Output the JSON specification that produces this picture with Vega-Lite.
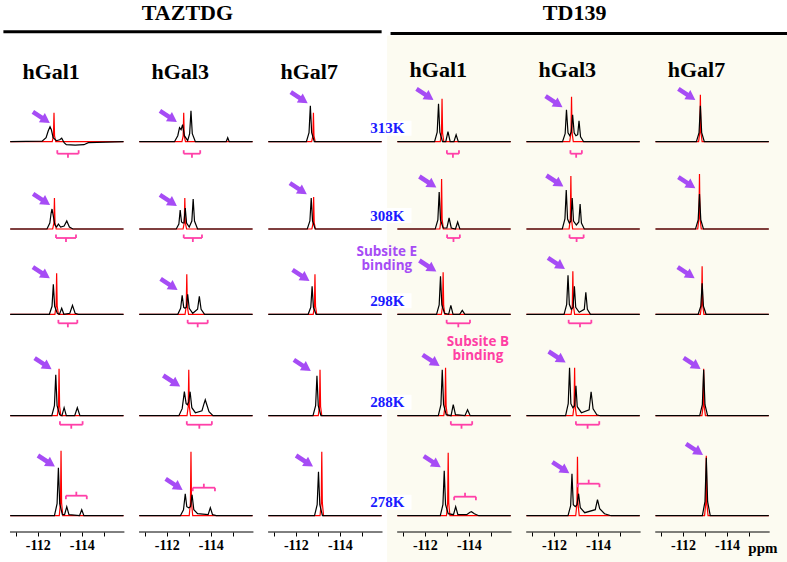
{
"$schema":"https://vega.github.io/schema/vega-lite/v6.json",
"width":787,"height":532,
"autosize":{"type":"none"},
"padding":{"left":0,"top":0,"right":0,"bottom":30},
"background":"#ffffff",
"config":{"view":{"stroke":null}},
"resolve":{"scale":{"color":"independent"}},
"datasets":{
"panels":[
{"lig":"TAZTDG","gal":"hGal1"},{"lig":"TAZTDG","gal":"hGal3"},{"lig":"TAZTDG","gal":"hGal7"},
{"lig":"TD139","gal":"hGal1"},{"lig":"TD139","gal":"hGal3"},{"lig":"TD139","gal":"hGal7"}],
"notes":[
{"lig":"TD139","gal":"hGal1","T":298,"ppm":-110.27,"i":62.6,"note":"Subsite E\nbinding","site":"E"},
{"lig":"TD139","gal":"hGal1","T":298,"ppm":-114.41,"i":-28,"note":"Subsite B\nbinding","site":"B"}],
"arrows":[
{"lig":"TAZTDG","gal":"hGal1","T":313,"ppm":-112.56,"i":18.7},{"lig":"TAZTDG","gal":"hGal3","T":313,"ppm":-112.47,"i":19.7},{"lig":"TAZTDG","gal":"hGal7","T":313,"ppm":-112.55,"i":38.4},
{"lig":"TD139","gal":"hGal1","T":313,"ppm":-112.4,"i":41.7},{"lig":"TD139","gal":"hGal3","T":313,"ppm":-112.4,"i":34.4},{"lig":"TD139","gal":"hGal7","T":313,"ppm":-112.57,"i":41.7},
{"lig":"TAZTDG","gal":"hGal1","T":308,"ppm":-112.57,"i":24},{"lig":"TAZTDG","gal":"hGal3","T":308,"ppm":-112.47,"i":23},{"lig":"TAZTDG","gal":"hGal7","T":308,"ppm":-112.51,"i":34.7},
{"lig":"TD139","gal":"hGal1","T":308,"ppm":-112.53,"i":41.3},{"lig":"TD139","gal":"hGal3","T":308,"ppm":-112.44,"i":42.3},{"lig":"TD139","gal":"hGal7","T":308,"ppm":-112.57,"i":40.7},
{"lig":"TAZTDG","gal":"hGal1","T":298,"ppm":-112.56,"i":36},{"lig":"TAZTDG","gal":"hGal3","T":298,"ppm":-112.5,"i":24.3},{"lig":"TAZTDG","gal":"hGal7","T":298,"ppm":-112.63,"i":33.3},
{"lig":"TD139","gal":"hGal1","T":298,"ppm":-112.53,"i":42.6},{"lig":"TD139","gal":"hGal3","T":298,"ppm":-112.51,"i":45.3},{"lig":"TD139","gal":"hGal7","T":298,"ppm":-112.54,"i":36},
{"lig":"TAZTDG","gal":"hGal1","T":288,"ppm":-112.64,"i":46.4},{"lig":"TAZTDG","gal":"hGal3","T":288,"ppm":-112.62,"i":29},{"lig":"TAZTDG","gal":"hGal7","T":288,"ppm":-112.69,"i":44.7},
{"lig":"TD139","gal":"hGal1","T":288,"ppm":-112.68,"i":49.7},{"lig":"TD139","gal":"hGal3","T":288,"ppm":-112.54,"i":53},{"lig":"TD139","gal":"hGal7","T":288,"ppm":-112.81,"i":46.7},
{"lig":"TAZTDG","gal":"hGal1","T":278,"ppm":-112.79,"i":49},{"lig":"TAZTDG","gal":"hGal3","T":278,"ppm":-112.73,"i":25.7},{"lig":"TAZTDG","gal":"hGal7","T":278,"ppm":-112.79,"i":49},
{"lig":"TD139","gal":"hGal1","T":278,"ppm":-112.73,"i":48.4},{"lig":"TD139","gal":"hGal3","T":278,"ppm":-112.71,"i":42.4},{"lig":"TD139","gal":"hGal7","T":278,"ppm":-112.92,"i":60.7}],
"brackets":[
{"lig":"TAZTDG","gal":"hGal1","T":313,"from":-112.89,"to":-113.86,"lvl":-12},{"lig":"TAZTDG","gal":"hGal3","T":313,"from":-112.77,"to":-113.52,"lvl":-12},
{"lig":"TD139","gal":"hGal1","T":313,"from":-113.0,"to":-113.55,"lvl":-12},{"lig":"TD139","gal":"hGal3","T":313,"from":-112.75,"to":-113.27,"lvl":-12},
{"lig":"TAZTDG","gal":"hGal1","T":308,"from":-112.83,"to":-113.74,"lvl":-9},{"lig":"TAZTDG","gal":"hGal3","T":308,"from":-112.77,"to":-113.6,"lvl":-9},
{"lig":"TD139","gal":"hGal1","T":308,"from":-113.01,"to":-113.59,"lvl":-9},{"lig":"TD139","gal":"hGal3","T":308,"from":-112.71,"to":-113.35,"lvl":-9},
{"lig":"TAZTDG","gal":"hGal1","T":298,"from":-112.94,"to":-113.8,"lvl":-9},{"lig":"TAZTDG","gal":"hGal3","T":298,"from":-112.95,"to":-113.86,"lvl":-9},
{"lig":"TD139","gal":"hGal1","T":298,"from":-112.99,"to":-114.05,"lvl":-9},{"lig":"TD139","gal":"hGal3","T":298,"from":-112.67,"to":-113.7,"lvl":-9},
{"lig":"TAZTDG","gal":"hGal1","T":288,"from":-113.01,"to":-114.04,"lvl":-9},{"lig":"TAZTDG","gal":"hGal3","T":288,"from":-112.91,"to":-114.05,"lvl":-9},
{"lig":"TD139","gal":"hGal1","T":288,"from":-113.18,"to":-114.15,"lvl":-9},{"lig":"TD139","gal":"hGal3","T":288,"from":-113.0,"to":-114.06,"lvl":-9},
{"lig":"TAZTDG","gal":"hGal1","T":278,"from":-113.28,"to":-114.23,"lvl":20},{"lig":"TAZTDG","gal":"hGal3","T":278,"from":-113.18,"to":-114.19,"lvl":28},
{"lig":"TD139","gal":"hGal1","T":278,"from":-113.33,"to":-114.32,"lvl":19},{"lig":"TD139","gal":"hGal3","T":278,"from":-113.09,"to":-114.07,"lvl":32}],
"spec":[
{"lig":"TAZTDG","gal":"hGal1","T":313,"s":"free","ppm":-110.75,"i":0},{"lig":"TAZTDG","gal":"hGal1","T":313,"s":"free","ppm":-112.66,"i":0},{"lig":"TAZTDG","gal":"hGal1","T":313,"s":"free","ppm":-112.715,"i":5.8},{"lig":"TAZTDG","gal":"hGal1","T":313,"s":"free","ppm":-112.74,"i":29},{"lig":"TAZTDG","gal":"hGal1","T":313,"s":"free","ppm":-112.765,"i":5.8},{"lig":"TAZTDG","gal":"hGal1","T":313,"s":"free","ppm":-112.82,"i":0},{"lig":"TAZTDG","gal":"hGal1","T":313,"s":"free","ppm":-115.9,"i":0},
{"lig":"TAZTDG","gal":"hGal3","T":313,"s":"free","ppm":-110.75,"i":0},{"lig":"TAZTDG","gal":"hGal3","T":313,"s":"free","ppm":-112.69,"i":0},{"lig":"TAZTDG","gal":"hGal3","T":313,"s":"free","ppm":-112.745,"i":5.8},{"lig":"TAZTDG","gal":"hGal3","T":313,"s":"free","ppm":-112.77,"i":29},{"lig":"TAZTDG","gal":"hGal3","T":313,"s":"free","ppm":-112.795,"i":5.8},{"lig":"TAZTDG","gal":"hGal3","T":313,"s":"free","ppm":-112.85,"i":0},{"lig":"TAZTDG","gal":"hGal3","T":313,"s":"free","ppm":-115.9,"i":0},
{"lig":"TAZTDG","gal":"hGal7","T":313,"s":"free","ppm":-110.75,"i":0},{"lig":"TAZTDG","gal":"hGal7","T":313,"s":"free","ppm":-112.72,"i":0},{"lig":"TAZTDG","gal":"hGal7","T":313,"s":"free","ppm":-112.775,"i":5.8},{"lig":"TAZTDG","gal":"hGal7","T":313,"s":"free","ppm":-112.8,"i":29},{"lig":"TAZTDG","gal":"hGal7","T":313,"s":"free","ppm":-112.825,"i":5.8},{"lig":"TAZTDG","gal":"hGal7","T":313,"s":"free","ppm":-112.88,"i":0},{"lig":"TAZTDG","gal":"hGal7","T":313,"s":"free","ppm":-115.9,"i":0},
{"lig":"TD139","gal":"hGal1","T":313,"s":"free","ppm":-110.75,"i":0},{"lig":"TD139","gal":"hGal1","T":313,"s":"free","ppm":-112.7,"i":0},{"lig":"TD139","gal":"hGal1","T":313,"s":"free","ppm":-112.755,"i":8.6},{"lig":"TD139","gal":"hGal1","T":313,"s":"free","ppm":-112.78,"i":43},{"lig":"TD139","gal":"hGal1","T":313,"s":"free","ppm":-112.805,"i":8.6},{"lig":"TD139","gal":"hGal1","T":313,"s":"free","ppm":-112.86,"i":0},{"lig":"TD139","gal":"hGal1","T":313,"s":"free","ppm":-115.9,"i":0},
{"lig":"TD139","gal":"hGal3","T":313,"s":"free","ppm":-110.75,"i":0},{"lig":"TD139","gal":"hGal3","T":313,"s":"free","ppm":-112.72,"i":0},{"lig":"TD139","gal":"hGal3","T":313,"s":"free","ppm":-112.775,"i":9},{"lig":"TD139","gal":"hGal3","T":313,"s":"free","ppm":-112.8,"i":45},{"lig":"TD139","gal":"hGal3","T":313,"s":"free","ppm":-112.825,"i":9},{"lig":"TD139","gal":"hGal3","T":313,"s":"free","ppm":-112.88,"i":0},{"lig":"TD139","gal":"hGal3","T":313,"s":"free","ppm":-115.9,"i":0},
{"lig":"TD139","gal":"hGal7","T":313,"s":"free","ppm":-110.75,"i":0},{"lig":"TD139","gal":"hGal7","T":313,"s":"free","ppm":-112.71,"i":0},{"lig":"TD139","gal":"hGal7","T":313,"s":"free","ppm":-112.765,"i":9.4},{"lig":"TD139","gal":"hGal7","T":313,"s":"free","ppm":-112.79,"i":47},{"lig":"TD139","gal":"hGal7","T":313,"s":"free","ppm":-112.815,"i":9.4},{"lig":"TD139","gal":"hGal7","T":313,"s":"free","ppm":-112.87,"i":0},{"lig":"TD139","gal":"hGal7","T":313,"s":"free","ppm":-115.9,"i":0},
{"lig":"TAZTDG","gal":"hGal1","T":308,"s":"free","ppm":-110.75,"i":0},{"lig":"TAZTDG","gal":"hGal1","T":308,"s":"free","ppm":-112.68,"i":0},{"lig":"TAZTDG","gal":"hGal1","T":308,"s":"free","ppm":-112.735,"i":6.2},{"lig":"TAZTDG","gal":"hGal1","T":308,"s":"free","ppm":-112.76,"i":31},{"lig":"TAZTDG","gal":"hGal1","T":308,"s":"free","ppm":-112.785,"i":6.2},{"lig":"TAZTDG","gal":"hGal1","T":308,"s":"free","ppm":-112.84,"i":0},{"lig":"TAZTDG","gal":"hGal1","T":308,"s":"free","ppm":-115.9,"i":0},
{"lig":"TAZTDG","gal":"hGal3","T":308,"s":"free","ppm":-110.75,"i":0},{"lig":"TAZTDG","gal":"hGal3","T":308,"s":"free","ppm":-112.74,"i":0},{"lig":"TAZTDG","gal":"hGal3","T":308,"s":"free","ppm":-112.795,"i":6.2},{"lig":"TAZTDG","gal":"hGal3","T":308,"s":"free","ppm":-112.82,"i":31},{"lig":"TAZTDG","gal":"hGal3","T":308,"s":"free","ppm":-112.845,"i":6.2},{"lig":"TAZTDG","gal":"hGal3","T":308,"s":"free","ppm":-112.9,"i":0},{"lig":"TAZTDG","gal":"hGal3","T":308,"s":"free","ppm":-115.9,"i":0},
{"lig":"TAZTDG","gal":"hGal7","T":308,"s":"free","ppm":-110.75,"i":0},{"lig":"TAZTDG","gal":"hGal7","T":308,"s":"free","ppm":-112.73,"i":0},{"lig":"TAZTDG","gal":"hGal7","T":308,"s":"free","ppm":-112.785,"i":6.4},{"lig":"TAZTDG","gal":"hGal7","T":308,"s":"free","ppm":-112.81,"i":32},{"lig":"TAZTDG","gal":"hGal7","T":308,"s":"free","ppm":-112.835,"i":6.4},{"lig":"TAZTDG","gal":"hGal7","T":308,"s":"free","ppm":-112.89,"i":0},{"lig":"TAZTDG","gal":"hGal7","T":308,"s":"free","ppm":-115.9,"i":0},
{"lig":"TD139","gal":"hGal1","T":308,"s":"free","ppm":-110.75,"i":0},{"lig":"TD139","gal":"hGal1","T":308,"s":"free","ppm":-112.68,"i":0},{"lig":"TD139","gal":"hGal1","T":308,"s":"free","ppm":-112.735,"i":10},{"lig":"TD139","gal":"hGal1","T":308,"s":"free","ppm":-112.76,"i":50},{"lig":"TD139","gal":"hGal1","T":308,"s":"free","ppm":-112.785,"i":10},{"lig":"TD139","gal":"hGal1","T":308,"s":"free","ppm":-112.84,"i":0},{"lig":"TD139","gal":"hGal1","T":308,"s":"free","ppm":-115.9,"i":0},
{"lig":"TD139","gal":"hGal3","T":308,"s":"free","ppm":-110.75,"i":0},{"lig":"TD139","gal":"hGal3","T":308,"s":"free","ppm":-112.69,"i":0},{"lig":"TD139","gal":"hGal3","T":308,"s":"free","ppm":-112.745,"i":10.6},{"lig":"TD139","gal":"hGal3","T":308,"s":"free","ppm":-112.77,"i":53},{"lig":"TD139","gal":"hGal3","T":308,"s":"free","ppm":-112.795,"i":10.6},{"lig":"TD139","gal":"hGal3","T":308,"s":"free","ppm":-112.85,"i":0},{"lig":"TD139","gal":"hGal3","T":308,"s":"free","ppm":-115.9,"i":0},
{"lig":"TD139","gal":"hGal7","T":308,"s":"free","ppm":-110.75,"i":0},{"lig":"TD139","gal":"hGal7","T":308,"s":"free","ppm":-112.67,"i":0},{"lig":"TD139","gal":"hGal7","T":308,"s":"free","ppm":-112.725,"i":11},{"lig":"TD139","gal":"hGal7","T":308,"s":"free","ppm":-112.75,"i":55},{"lig":"TD139","gal":"hGal7","T":308,"s":"free","ppm":-112.775,"i":11},{"lig":"TD139","gal":"hGal7","T":308,"s":"free","ppm":-112.83,"i":0},{"lig":"TD139","gal":"hGal7","T":308,"s":"free","ppm":-115.9,"i":0},
{"lig":"TAZTDG","gal":"hGal1","T":298,"s":"free","ppm":-110.75,"i":0},{"lig":"TAZTDG","gal":"hGal1","T":298,"s":"free","ppm":-112.78,"i":0},{"lig":"TAZTDG","gal":"hGal1","T":298,"s":"free","ppm":-112.835,"i":8.2},{"lig":"TAZTDG","gal":"hGal1","T":298,"s":"free","ppm":-112.86,"i":41},{"lig":"TAZTDG","gal":"hGal1","T":298,"s":"free","ppm":-112.885,"i":8.2},{"lig":"TAZTDG","gal":"hGal1","T":298,"s":"free","ppm":-112.94,"i":0},{"lig":"TAZTDG","gal":"hGal1","T":298,"s":"free","ppm":-115.9,"i":0},
{"lig":"TAZTDG","gal":"hGal3","T":298,"s":"free","ppm":-110.75,"i":0},{"lig":"TAZTDG","gal":"hGal3","T":298,"s":"free","ppm":-112.83,"i":0},{"lig":"TAZTDG","gal":"hGal3","T":298,"s":"free","ppm":-112.885,"i":8},{"lig":"TAZTDG","gal":"hGal3","T":298,"s":"free","ppm":-112.91,"i":40},{"lig":"TAZTDG","gal":"hGal3","T":298,"s":"free","ppm":-112.935,"i":8},{"lig":"TAZTDG","gal":"hGal3","T":298,"s":"free","ppm":-112.99,"i":0},{"lig":"TAZTDG","gal":"hGal3","T":298,"s":"free","ppm":-115.9,"i":0},
{"lig":"TAZTDG","gal":"hGal7","T":298,"s":"free","ppm":-110.75,"i":0},{"lig":"TAZTDG","gal":"hGal7","T":298,"s":"free","ppm":-112.79,"i":0},{"lig":"TAZTDG","gal":"hGal7","T":298,"s":"free","ppm":-112.845,"i":8},{"lig":"TAZTDG","gal":"hGal7","T":298,"s":"free","ppm":-112.87,"i":40},{"lig":"TAZTDG","gal":"hGal7","T":298,"s":"free","ppm":-112.895,"i":8},{"lig":"TAZTDG","gal":"hGal7","T":298,"s":"free","ppm":-112.95,"i":0},{"lig":"TAZTDG","gal":"hGal7","T":298,"s":"free","ppm":-115.9,"i":0},
{"lig":"TD139","gal":"hGal1","T":298,"s":"free","ppm":-110.75,"i":0},{"lig":"TD139","gal":"hGal1","T":298,"s":"free","ppm":-112.75,"i":0},{"lig":"TD139","gal":"hGal1","T":298,"s":"free","ppm":-112.805,"i":8.4},{"lig":"TD139","gal":"hGal1","T":298,"s":"free","ppm":-112.83,"i":42},{"lig":"TD139","gal":"hGal1","T":298,"s":"free","ppm":-112.855,"i":8.4},{"lig":"TD139","gal":"hGal1","T":298,"s":"free","ppm":-112.91,"i":0},{"lig":"TD139","gal":"hGal1","T":298,"s":"free","ppm":-115.9,"i":0},
{"lig":"TD139","gal":"hGal3","T":298,"s":"free","ppm":-110.75,"i":0},{"lig":"TD139","gal":"hGal3","T":298,"s":"free","ppm":-112.78,"i":0},{"lig":"TD139","gal":"hGal3","T":298,"s":"free","ppm":-112.835,"i":8.6},{"lig":"TD139","gal":"hGal3","T":298,"s":"free","ppm":-112.86,"i":43},{"lig":"TD139","gal":"hGal3","T":298,"s":"free","ppm":-112.885,"i":8.6},{"lig":"TD139","gal":"hGal3","T":298,"s":"free","ppm":-112.94,"i":0},{"lig":"TD139","gal":"hGal3","T":298,"s":"free","ppm":-115.9,"i":0},
{"lig":"TD139","gal":"hGal7","T":298,"s":"free","ppm":-110.75,"i":0},{"lig":"TD139","gal":"hGal7","T":298,"s":"free","ppm":-112.79,"i":0},{"lig":"TD139","gal":"hGal7","T":298,"s":"free","ppm":-112.845,"i":9.6},{"lig":"TD139","gal":"hGal7","T":298,"s":"free","ppm":-112.87,"i":48},{"lig":"TD139","gal":"hGal7","T":298,"s":"free","ppm":-112.895,"i":9.6},{"lig":"TD139","gal":"hGal7","T":298,"s":"free","ppm":-112.95,"i":0},{"lig":"TD139","gal":"hGal7","T":298,"s":"free","ppm":-115.9,"i":0},
{"lig":"TAZTDG","gal":"hGal1","T":288,"s":"free","ppm":-110.75,"i":0},{"lig":"TAZTDG","gal":"hGal1","T":288,"s":"free","ppm":-112.89,"i":0},{"lig":"TAZTDG","gal":"hGal1","T":288,"s":"free","ppm":-112.945,"i":9.4},{"lig":"TAZTDG","gal":"hGal1","T":288,"s":"free","ppm":-112.97,"i":47},{"lig":"TAZTDG","gal":"hGal1","T":288,"s":"free","ppm":-112.995,"i":9.4},{"lig":"TAZTDG","gal":"hGal1","T":288,"s":"free","ppm":-113.05,"i":0},{"lig":"TAZTDG","gal":"hGal1","T":288,"s":"free","ppm":-115.9,"i":0},
{"lig":"TAZTDG","gal":"hGal3","T":288,"s":"free","ppm":-110.75,"i":0},{"lig":"TAZTDG","gal":"hGal3","T":288,"s":"free","ppm":-112.92,"i":0},{"lig":"TAZTDG","gal":"hGal3","T":288,"s":"free","ppm":-112.975,"i":9.2},{"lig":"TAZTDG","gal":"hGal3","T":288,"s":"free","ppm":-113.0,"i":46},{"lig":"TAZTDG","gal":"hGal3","T":288,"s":"free","ppm":-113.025,"i":9.2},{"lig":"TAZTDG","gal":"hGal3","T":288,"s":"free","ppm":-113.08,"i":0},{"lig":"TAZTDG","gal":"hGal3","T":288,"s":"free","ppm":-115.9,"i":0},
{"lig":"TAZTDG","gal":"hGal7","T":288,"s":"free","ppm":-110.75,"i":0},{"lig":"TAZTDG","gal":"hGal7","T":288,"s":"free","ppm":-113.02,"i":0},{"lig":"TAZTDG","gal":"hGal7","T":288,"s":"free","ppm":-113.075,"i":9.2},{"lig":"TAZTDG","gal":"hGal7","T":288,"s":"free","ppm":-113.1,"i":46},{"lig":"TAZTDG","gal":"hGal7","T":288,"s":"free","ppm":-113.125,"i":9.2},{"lig":"TAZTDG","gal":"hGal7","T":288,"s":"free","ppm":-113.18,"i":0},{"lig":"TAZTDG","gal":"hGal7","T":288,"s":"free","ppm":-115.9,"i":0},
{"lig":"TD139","gal":"hGal1","T":288,"s":"free","ppm":-110.75,"i":0},{"lig":"TD139","gal":"hGal1","T":288,"s":"free","ppm":-112.86,"i":0},{"lig":"TD139","gal":"hGal1","T":288,"s":"free","ppm":-112.915,"i":9.6},{"lig":"TD139","gal":"hGal1","T":288,"s":"free","ppm":-112.94,"i":48},{"lig":"TD139","gal":"hGal1","T":288,"s":"free","ppm":-112.965,"i":9.6},{"lig":"TD139","gal":"hGal1","T":288,"s":"free","ppm":-113.02,"i":0},{"lig":"TD139","gal":"hGal1","T":288,"s":"free","ppm":-115.9,"i":0},
{"lig":"TD139","gal":"hGal3","T":288,"s":"free","ppm":-110.75,"i":0},{"lig":"TD139","gal":"hGal3","T":288,"s":"free","ppm":-112.86,"i":0},{"lig":"TD139","gal":"hGal3","T":288,"s":"free","ppm":-112.915,"i":9.6},{"lig":"TD139","gal":"hGal3","T":288,"s":"free","ppm":-112.94,"i":48},{"lig":"TD139","gal":"hGal3","T":288,"s":"free","ppm":-112.965,"i":9.6},{"lig":"TD139","gal":"hGal3","T":288,"s":"free","ppm":-113.02,"i":0},{"lig":"TD139","gal":"hGal3","T":288,"s":"free","ppm":-115.9,"i":0},
{"lig":"TD139","gal":"hGal7","T":288,"s":"free","ppm":-110.75,"i":0},{"lig":"TD139","gal":"hGal7","T":288,"s":"free","ppm":-112.86,"i":0},{"lig":"TD139","gal":"hGal7","T":288,"s":"free","ppm":-112.915,"i":9.4},{"lig":"TD139","gal":"hGal7","T":288,"s":"free","ppm":-112.94,"i":47},{"lig":"TD139","gal":"hGal7","T":288,"s":"free","ppm":-112.965,"i":9.4},{"lig":"TD139","gal":"hGal7","T":288,"s":"free","ppm":-113.02,"i":0},{"lig":"TD139","gal":"hGal7","T":288,"s":"free","ppm":-115.9,"i":0},
{"lig":"TAZTDG","gal":"hGal1","T":278,"s":"free","ppm":-110.75,"i":0},{"lig":"TAZTDG","gal":"hGal1","T":278,"s":"free","ppm":-112.98,"i":0},{"lig":"TAZTDG","gal":"hGal1","T":278,"s":"free","ppm":-113.035,"i":13},{"lig":"TAZTDG","gal":"hGal1","T":278,"s":"free","ppm":-113.06,"i":65},{"lig":"TAZTDG","gal":"hGal1","T":278,"s":"free","ppm":-113.085,"i":13},{"lig":"TAZTDG","gal":"hGal1","T":278,"s":"free","ppm":-113.14,"i":0},{"lig":"TAZTDG","gal":"hGal1","T":278,"s":"free","ppm":-115.9,"i":0},
{"lig":"TAZTDG","gal":"hGal3","T":278,"s":"free","ppm":-110.75,"i":0},{"lig":"TAZTDG","gal":"hGal3","T":278,"s":"free","ppm":-113.02,"i":0},{"lig":"TAZTDG","gal":"hGal3","T":278,"s":"free","ppm":-113.075,"i":12.8},{"lig":"TAZTDG","gal":"hGal3","T":278,"s":"free","ppm":-113.1,"i":64},{"lig":"TAZTDG","gal":"hGal3","T":278,"s":"free","ppm":-113.125,"i":12.8},{"lig":"TAZTDG","gal":"hGal3","T":278,"s":"free","ppm":-113.18,"i":0},{"lig":"TAZTDG","gal":"hGal3","T":278,"s":"free","ppm":-115.9,"i":0},
{"lig":"TAZTDG","gal":"hGal7","T":278,"s":"free","ppm":-110.75,"i":0},{"lig":"TAZTDG","gal":"hGal7","T":278,"s":"free","ppm":-113.1,"i":0},{"lig":"TAZTDG","gal":"hGal7","T":278,"s":"free","ppm":-113.155,"i":12.8},{"lig":"TAZTDG","gal":"hGal7","T":278,"s":"free","ppm":-113.18,"i":64},{"lig":"TAZTDG","gal":"hGal7","T":278,"s":"free","ppm":-113.205,"i":12.8},{"lig":"TAZTDG","gal":"hGal7","T":278,"s":"free","ppm":-113.26,"i":0},{"lig":"TAZTDG","gal":"hGal7","T":278,"s":"free","ppm":-115.9,"i":0},
{"lig":"TD139","gal":"hGal1","T":278,"s":"free","ppm":-110.75,"i":0},{"lig":"TD139","gal":"hGal1","T":278,"s":"free","ppm":-112.98,"i":0},{"lig":"TD139","gal":"hGal1","T":278,"s":"free","ppm":-113.035,"i":12.6},{"lig":"TD139","gal":"hGal1","T":278,"s":"free","ppm":-113.06,"i":63},{"lig":"TD139","gal":"hGal1","T":278,"s":"free","ppm":-113.085,"i":12.6},{"lig":"TD139","gal":"hGal1","T":278,"s":"free","ppm":-113.14,"i":0},{"lig":"TD139","gal":"hGal1","T":278,"s":"free","ppm":-115.9,"i":0},
{"lig":"TD139","gal":"hGal3","T":278,"s":"free","ppm":-110.75,"i":0},{"lig":"TD139","gal":"hGal3","T":278,"s":"free","ppm":-112.99,"i":0},{"lig":"TD139","gal":"hGal3","T":278,"s":"free","ppm":-113.045,"i":11.8},{"lig":"TD139","gal":"hGal3","T":278,"s":"free","ppm":-113.07,"i":59},{"lig":"TD139","gal":"hGal3","T":278,"s":"free","ppm":-113.095,"i":11.8},{"lig":"TD139","gal":"hGal3","T":278,"s":"free","ppm":-113.15,"i":0},{"lig":"TD139","gal":"hGal3","T":278,"s":"free","ppm":-115.9,"i":0},
{"lig":"TD139","gal":"hGal7","T":278,"s":"free","ppm":-110.75,"i":0},{"lig":"TD139","gal":"hGal7","T":278,"s":"free","ppm":-112.98,"i":0},{"lig":"TD139","gal":"hGal7","T":278,"s":"free","ppm":-113.035,"i":12},{"lig":"TD139","gal":"hGal7","T":278,"s":"free","ppm":-113.06,"i":60},{"lig":"TD139","gal":"hGal7","T":278,"s":"free","ppm":-113.085,"i":12},{"lig":"TD139","gal":"hGal7","T":278,"s":"free","ppm":-113.14,"i":0},{"lig":"TD139","gal":"hGal7","T":278,"s":"free","ppm":-115.9,"i":0},

{"lig":"TAZTDG","gal":"hGal1","T":313,"s":"bound","ppm":-110.75,"i":0},{"lig":"TAZTDG","gal":"hGal1","T":313,"s":"bound","ppm":-112.2,"i":0.5},{"lig":"TAZTDG","gal":"hGal1","T":313,"s":"bound","ppm":-112.38,"i":4},{"lig":"TAZTDG","gal":"hGal1","T":313,"s":"bound","ppm":-112.48,"i":11},{"lig":"TAZTDG","gal":"hGal1","T":313,"s":"bound","ppm":-112.56,"i":15},{"lig":"TAZTDG","gal":"hGal1","T":313,"s":"bound","ppm":-112.62,"i":12},{"lig":"TAZTDG","gal":"hGal1","T":313,"s":"bound","ppm":-112.7,"i":4},{"lig":"TAZTDG","gal":"hGal1","T":313,"s":"bound","ppm":-112.85,"i":1},{"lig":"TAZTDG","gal":"hGal1","T":313,"s":"bound","ppm":-113.0,"i":2},{"lig":"TAZTDG","gal":"hGal1","T":313,"s":"bound","ppm":-113.09,"i":3.5},{"lig":"TAZTDG","gal":"hGal1","T":313,"s":"bound","ppm":-113.2,"i":-1},{"lig":"TAZTDG","gal":"hGal1","T":313,"s":"bound","ppm":-113.3,"i":-3},{"lig":"TAZTDG","gal":"hGal1","T":313,"s":"bound","ppm":-113.7,"i":-3.5},{"lig":"TAZTDG","gal":"hGal1","T":313,"s":"bound","ppm":-114.1,"i":-3},{"lig":"TAZTDG","gal":"hGal1","T":313,"s":"bound","ppm":-114.3,"i":-1},{"lig":"TAZTDG","gal":"hGal1","T":313,"s":"bound","ppm":-115.9,"i":0},
{"lig":"TAZTDG","gal":"hGal3","T":313,"s":"bound","ppm":-110.75,"i":0},{"lig":"TAZTDG","gal":"hGal3","T":313,"s":"bound","ppm":-112.35,"i":0},{"lig":"TAZTDG","gal":"hGal3","T":313,"s":"bound","ppm":-112.5,"i":6},{"lig":"TAZTDG","gal":"hGal3","T":313,"s":"bound","ppm":-112.58,"i":14},{"lig":"TAZTDG","gal":"hGal3","T":313,"s":"bound","ppm":-112.65,"i":12},{"lig":"TAZTDG","gal":"hGal3","T":313,"s":"bound","ppm":-112.72,"i":17},{"lig":"TAZTDG","gal":"hGal3","T":313,"s":"bound","ppm":-112.8,"i":6},{"lig":"TAZTDG","gal":"hGal3","T":313,"s":"bound","ppm":-112.95,"i":1},{"lig":"TAZTDG","gal":"hGal3","T":313,"s":"bound","ppm":-113.04,"i":8},{"lig":"TAZTDG","gal":"hGal3","T":313,"s":"bound","ppm":-113.1,"i":31},{"lig":"TAZTDG","gal":"hGal3","T":313,"s":"bound","ppm":-113.16,"i":8},{"lig":"TAZTDG","gal":"hGal3","T":313,"s":"bound","ppm":-113.3,"i":0},{"lig":"TAZTDG","gal":"hGal3","T":313,"s":"bound","ppm":-114.7,"i":0},{"lig":"TAZTDG","gal":"hGal3","T":313,"s":"bound","ppm":-114.77,"i":4},{"lig":"TAZTDG","gal":"hGal3","T":313,"s":"bound","ppm":-114.84,"i":0},{"lig":"TAZTDG","gal":"hGal3","T":313,"s":"bound","ppm":-115.9,"i":0},
{"lig":"TAZTDG","gal":"hGal7","T":313,"s":"bound","ppm":-110.75,"i":0},{"lig":"TAZTDG","gal":"hGal7","T":313,"s":"bound","ppm":-112.48,"i":0},{"lig":"TAZTDG","gal":"hGal7","T":313,"s":"bound","ppm":-112.6,"i":9},{"lig":"TAZTDG","gal":"hGal7","T":313,"s":"bound","ppm":-112.66,"i":36},{"lig":"TAZTDG","gal":"hGal7","T":313,"s":"bound","ppm":-112.72,"i":9},{"lig":"TAZTDG","gal":"hGal7","T":313,"s":"bound","ppm":-112.84,"i":0},{"lig":"TAZTDG","gal":"hGal7","T":313,"s":"bound","ppm":-115.9,"i":0},
{"lig":"TD139","gal":"hGal1","T":313,"s":"bound","ppm":-110.75,"i":0},{"lig":"TD139","gal":"hGal1","T":313,"s":"bound","ppm":-112.44,"i":0},{"lig":"TD139","gal":"hGal1","T":313,"s":"bound","ppm":-112.56,"i":9.5},{"lig":"TD139","gal":"hGal1","T":313,"s":"bound","ppm":-112.62,"i":38},{"lig":"TD139","gal":"hGal1","T":313,"s":"bound","ppm":-112.68,"i":9.5},{"lig":"TD139","gal":"hGal1","T":313,"s":"bound","ppm":-112.8,"i":0},{"lig":"TD139","gal":"hGal1","T":313,"s":"bound","ppm":-112.95,"i":0},{"lig":"TD139","gal":"hGal1","T":313,"s":"bound","ppm":-113.05,"i":10},{"lig":"TD139","gal":"hGal1","T":313,"s":"bound","ppm":-113.15,"i":0},{"lig":"TD139","gal":"hGal1","T":313,"s":"bound","ppm":-113.32,"i":0},{"lig":"TD139","gal":"hGal1","T":313,"s":"bound","ppm":-113.42,"i":7},{"lig":"TD139","gal":"hGal1","T":313,"s":"bound","ppm":-113.52,"i":0},{"lig":"TD139","gal":"hGal1","T":313,"s":"bound","ppm":-115.9,"i":0},
{"lig":"TD139","gal":"hGal3","T":313,"s":"bound","ppm":-110.75,"i":0},{"lig":"TD139","gal":"hGal3","T":313,"s":"bound","ppm":-112.39,"i":0},{"lig":"TD139","gal":"hGal3","T":313,"s":"bound","ppm":-112.51,"i":8},{"lig":"TD139","gal":"hGal3","T":313,"s":"bound","ppm":-112.57,"i":32},{"lig":"TD139","gal":"hGal3","T":313,"s":"bound","ppm":-112.64,"i":9},{"lig":"TD139","gal":"hGal3","T":313,"s":"bound","ppm":-112.72,"i":6},{"lig":"TD139","gal":"hGal3","T":313,"s":"bound","ppm":-112.79,"i":10},{"lig":"TD139","gal":"hGal3","T":313,"s":"bound","ppm":-112.85,"i":27},{"lig":"TD139","gal":"hGal3","T":313,"s":"bound","ppm":-112.92,"i":9},{"lig":"TD139","gal":"hGal3","T":313,"s":"bound","ppm":-113.0,"i":6},{"lig":"TD139","gal":"hGal3","T":313,"s":"bound","ppm":-113.08,"i":7},{"lig":"TD139","gal":"hGal3","T":313,"s":"bound","ppm":-113.14,"i":21},{"lig":"TD139","gal":"hGal3","T":313,"s":"bound","ppm":-113.21,"i":5},{"lig":"TD139","gal":"hGal3","T":313,"s":"bound","ppm":-113.35,"i":0},{"lig":"TD139","gal":"hGal3","T":313,"s":"bound","ppm":-115.9,"i":0},
{"lig":"TD139","gal":"hGal7","T":313,"s":"bound","ppm":-110.75,"i":0},{"lig":"TD139","gal":"hGal7","T":313,"s":"bound","ppm":-112.61,"i":0},{"lig":"TD139","gal":"hGal7","T":313,"s":"bound","ppm":-112.73,"i":9},{"lig":"TD139","gal":"hGal7","T":313,"s":"bound","ppm":-112.79,"i":36},{"lig":"TD139","gal":"hGal7","T":313,"s":"bound","ppm":-112.85,"i":9},{"lig":"TD139","gal":"hGal7","T":313,"s":"bound","ppm":-112.97,"i":0},{"lig":"TD139","gal":"hGal7","T":313,"s":"bound","ppm":-115.9,"i":0},

{"lig":"TAZTDG","gal":"hGal1","T":308,"s":"bound","ppm":-110.75,"i":0},{"lig":"TAZTDG","gal":"hGal1","T":308,"s":"bound","ppm":-112.42,"i":0},{"lig":"TAZTDG","gal":"hGal1","T":308,"s":"bound","ppm":-112.55,"i":6},{"lig":"TAZTDG","gal":"hGal1","T":308,"s":"bound","ppm":-112.61,"i":16},{"lig":"TAZTDG","gal":"hGal1","T":308,"s":"bound","ppm":-112.65,"i":20},{"lig":"TAZTDG","gal":"hGal1","T":308,"s":"bound","ppm":-112.7,"i":14},{"lig":"TAZTDG","gal":"hGal1","T":308,"s":"bound","ppm":-112.78,"i":4},{"lig":"TAZTDG","gal":"hGal1","T":308,"s":"bound","ppm":-112.86,"i":2},{"lig":"TAZTDG","gal":"hGal1","T":308,"s":"bound","ppm":-112.94,"i":5},{"lig":"TAZTDG","gal":"hGal1","T":308,"s":"bound","ppm":-113.04,"i":2},{"lig":"TAZTDG","gal":"hGal1","T":308,"s":"bound","ppm":-113.2,"i":3},{"lig":"TAZTDG","gal":"hGal1","T":308,"s":"bound","ppm":-113.32,"i":8},{"lig":"TAZTDG","gal":"hGal1","T":308,"s":"bound","ppm":-113.44,"i":2},{"lig":"TAZTDG","gal":"hGal1","T":308,"s":"bound","ppm":-113.6,"i":0},{"lig":"TAZTDG","gal":"hGal1","T":308,"s":"bound","ppm":-115.9,"i":0},
{"lig":"TAZTDG","gal":"hGal3","T":308,"s":"bound","ppm":-110.75,"i":0},{"lig":"TAZTDG","gal":"hGal3","T":308,"s":"bound","ppm":-112.43,"i":0},{"lig":"TAZTDG","gal":"hGal3","T":308,"s":"bound","ppm":-112.55,"i":5},{"lig":"TAZTDG","gal":"hGal3","T":308,"s":"bound","ppm":-112.61,"i":19},{"lig":"TAZTDG","gal":"hGal3","T":308,"s":"bound","ppm":-112.67,"i":7},{"lig":"TAZTDG","gal":"hGal3","T":308,"s":"bound","ppm":-112.73,"i":6},{"lig":"TAZTDG","gal":"hGal3","T":308,"s":"bound","ppm":-112.78,"i":6},{"lig":"TAZTDG","gal":"hGal3","T":308,"s":"bound","ppm":-112.84,"i":21},{"lig":"TAZTDG","gal":"hGal3","T":308,"s":"bound","ppm":-112.9,"i":6},{"lig":"TAZTDG","gal":"hGal3","T":308,"s":"bound","ppm":-113.02,"i":2},{"lig":"TAZTDG","gal":"hGal3","T":308,"s":"bound","ppm":-113.14,"i":8},{"lig":"TAZTDG","gal":"hGal3","T":308,"s":"bound","ppm":-113.2,"i":30},{"lig":"TAZTDG","gal":"hGal3","T":308,"s":"bound","ppm":-113.26,"i":8},{"lig":"TAZTDG","gal":"hGal3","T":308,"s":"bound","ppm":-113.4,"i":0},{"lig":"TAZTDG","gal":"hGal3","T":308,"s":"bound","ppm":-115.9,"i":0},
{"lig":"TAZTDG","gal":"hGal7","T":308,"s":"bound","ppm":-110.75,"i":0},{"lig":"TAZTDG","gal":"hGal7","T":308,"s":"bound","ppm":-112.52,"i":0},{"lig":"TAZTDG","gal":"hGal7","T":308,"s":"bound","ppm":-112.64,"i":8},{"lig":"TAZTDG","gal":"hGal7","T":308,"s":"bound","ppm":-112.7,"i":31},{"lig":"TAZTDG","gal":"hGal7","T":308,"s":"bound","ppm":-112.76,"i":8},{"lig":"TAZTDG","gal":"hGal7","T":308,"s":"bound","ppm":-112.88,"i":0},{"lig":"TAZTDG","gal":"hGal7","T":308,"s":"bound","ppm":-115.9,"i":0},
{"lig":"TD139","gal":"hGal1","T":308,"s":"bound","ppm":-110.75,"i":0},{"lig":"TD139","gal":"hGal1","T":308,"s":"bound","ppm":-112.47,"i":0},{"lig":"TD139","gal":"hGal1","T":308,"s":"bound","ppm":-112.59,"i":9},{"lig":"TD139","gal":"hGal1","T":308,"s":"bound","ppm":-112.65,"i":37},{"lig":"TD139","gal":"hGal1","T":308,"s":"bound","ppm":-112.71,"i":9},{"lig":"TD139","gal":"hGal1","T":308,"s":"bound","ppm":-112.83,"i":1},{"lig":"TD139","gal":"hGal1","T":308,"s":"bound","ppm":-113.0,"i":1},{"lig":"TD139","gal":"hGal1","T":308,"s":"bound","ppm":-113.1,"i":11},{"lig":"TD139","gal":"hGal1","T":308,"s":"bound","ppm":-113.2,"i":1},{"lig":"TD139","gal":"hGal1","T":308,"s":"bound","ppm":-113.39,"i":0},{"lig":"TD139","gal":"hGal1","T":308,"s":"bound","ppm":-113.49,"i":7},{"lig":"TD139","gal":"hGal1","T":308,"s":"bound","ppm":-113.59,"i":0},{"lig":"TD139","gal":"hGal1","T":308,"s":"bound","ppm":-115.9,"i":0},
{"lig":"TD139","gal":"hGal3","T":308,"s":"bound","ppm":-110.75,"i":0},{"lig":"TD139","gal":"hGal3","T":308,"s":"bound","ppm":-112.38,"i":0},{"lig":"TD139","gal":"hGal3","T":308,"s":"bound","ppm":-112.5,"i":10},{"lig":"TD139","gal":"hGal3","T":308,"s":"bound","ppm":-112.56,"i":39},{"lig":"TD139","gal":"hGal3","T":308,"s":"bound","ppm":-112.62,"i":10},{"lig":"TD139","gal":"hGal3","T":308,"s":"bound","ppm":-112.7,"i":6},{"lig":"TD139","gal":"hGal3","T":308,"s":"bound","ppm":-112.77,"i":8},{"lig":"TD139","gal":"hGal3","T":308,"s":"bound","ppm":-112.83,"i":31},{"lig":"TD139","gal":"hGal3","T":308,"s":"bound","ppm":-112.89,"i":8},{"lig":"TD139","gal":"hGal3","T":308,"s":"bound","ppm":-113.02,"i":4},{"lig":"TD139","gal":"hGal3","T":308,"s":"bound","ppm":-113.13,"i":7},{"lig":"TD139","gal":"hGal3","T":308,"s":"bound","ppm":-113.19,"i":25},{"lig":"TD139","gal":"hGal3","T":308,"s":"bound","ppm":-113.25,"i":6},{"lig":"TD139","gal":"hGal3","T":308,"s":"bound","ppm":-113.38,"i":0},{"lig":"TD139","gal":"hGal3","T":308,"s":"bound","ppm":-115.9,"i":0},
{"lig":"TD139","gal":"hGal7","T":308,"s":"bound","ppm":-110.75,"i":0},{"lig":"TD139","gal":"hGal7","T":308,"s":"bound","ppm":-112.57,"i":0},{"lig":"TD139","gal":"hGal7","T":308,"s":"bound","ppm":-112.69,"i":9},{"lig":"TD139","gal":"hGal7","T":308,"s":"bound","ppm":-112.75,"i":35},{"lig":"TD139","gal":"hGal7","T":308,"s":"bound","ppm":-112.81,"i":9},{"lig":"TD139","gal":"hGal7","T":308,"s":"bound","ppm":-112.93,"i":0},{"lig":"TD139","gal":"hGal7","T":308,"s":"bound","ppm":-115.9,"i":0},

{"lig":"TAZTDG","gal":"hGal1","T":298,"s":"bound","ppm":-110.75,"i":0},{"lig":"TAZTDG","gal":"hGal1","T":298,"s":"bound","ppm":-112.53,"i":0},{"lig":"TAZTDG","gal":"hGal1","T":298,"s":"bound","ppm":-112.65,"i":8},{"lig":"TAZTDG","gal":"hGal1","T":298,"s":"bound","ppm":-112.71,"i":30},{"lig":"TAZTDG","gal":"hGal1","T":298,"s":"bound","ppm":-112.77,"i":8},{"lig":"TAZTDG","gal":"hGal1","T":298,"s":"bound","ppm":-112.89,"i":1},{"lig":"TAZTDG","gal":"hGal1","T":298,"s":"bound","ppm":-112.99,"i":0},{"lig":"TAZTDG","gal":"hGal1","T":298,"s":"bound","ppm":-113.09,"i":6},{"lig":"TAZTDG","gal":"hGal1","T":298,"s":"bound","ppm":-113.19,"i":0},{"lig":"TAZTDG","gal":"hGal1","T":298,"s":"bound","ppm":-113.46,"i":1},{"lig":"TAZTDG","gal":"hGal1","T":298,"s":"bound","ppm":-113.58,"i":9},{"lig":"TAZTDG","gal":"hGal1","T":298,"s":"bound","ppm":-113.7,"i":1},{"lig":"TAZTDG","gal":"hGal1","T":298,"s":"bound","ppm":-113.85,"i":0},{"lig":"TAZTDG","gal":"hGal1","T":298,"s":"bound","ppm":-115.9,"i":0},
{"lig":"TAZTDG","gal":"hGal3","T":298,"s":"bound","ppm":-110.75,"i":0},{"lig":"TAZTDG","gal":"hGal3","T":298,"s":"bound","ppm":-112.5,"i":0},{"lig":"TAZTDG","gal":"hGal3","T":298,"s":"bound","ppm":-112.63,"i":6},{"lig":"TAZTDG","gal":"hGal3","T":298,"s":"bound","ppm":-112.7,"i":19},{"lig":"TAZTDG","gal":"hGal3","T":298,"s":"bound","ppm":-112.77,"i":7},{"lig":"TAZTDG","gal":"hGal3","T":298,"s":"bound","ppm":-112.83,"i":6},{"lig":"TAZTDG","gal":"hGal3","T":298,"s":"bound","ppm":-112.89,"i":7},{"lig":"TAZTDG","gal":"hGal3","T":298,"s":"bound","ppm":-112.95,"i":20},{"lig":"TAZTDG","gal":"hGal3","T":298,"s":"bound","ppm":-113.02,"i":6},{"lig":"TAZTDG","gal":"hGal3","T":298,"s":"bound","ppm":-113.18,"i":1},{"lig":"TAZTDG","gal":"hGal3","T":298,"s":"bound","ppm":-113.4,"i":5},{"lig":"TAZTDG","gal":"hGal3","T":298,"s":"bound","ppm":-113.48,"i":18},{"lig":"TAZTDG","gal":"hGal3","T":298,"s":"bound","ppm":-113.56,"i":5},{"lig":"TAZTDG","gal":"hGal3","T":298,"s":"bound","ppm":-113.72,"i":0},{"lig":"TAZTDG","gal":"hGal3","T":298,"s":"bound","ppm":-115.9,"i":0},
{"lig":"TAZTDG","gal":"hGal7","T":298,"s":"bound","ppm":-110.75,"i":0},{"lig":"TAZTDG","gal":"hGal7","T":298,"s":"bound","ppm":-112.56,"i":0},{"lig":"TAZTDG","gal":"hGal7","T":298,"s":"bound","ppm":-112.68,"i":7},{"lig":"TAZTDG","gal":"hGal7","T":298,"s":"bound","ppm":-112.74,"i":28},{"lig":"TAZTDG","gal":"hGal7","T":298,"s":"bound","ppm":-112.8,"i":7},{"lig":"TAZTDG","gal":"hGal7","T":298,"s":"bound","ppm":-112.92,"i":0},{"lig":"TAZTDG","gal":"hGal7","T":298,"s":"bound","ppm":-115.9,"i":0},
{"lig":"TD139","gal":"hGal1","T":298,"s":"bound","ppm":-110.75,"i":0},{"lig":"TD139","gal":"hGal1","T":298,"s":"bound","ppm":-112.53,"i":0},{"lig":"TD139","gal":"hGal1","T":298,"s":"bound","ppm":-112.65,"i":9.5},{"lig":"TD139","gal":"hGal1","T":298,"s":"bound","ppm":-112.71,"i":38},{"lig":"TD139","gal":"hGal1","T":298,"s":"bound","ppm":-112.77,"i":9.5},{"lig":"TD139","gal":"hGal1","T":298,"s":"bound","ppm":-112.89,"i":1},{"lig":"TD139","gal":"hGal1","T":298,"s":"bound","ppm":-113.08,"i":0},{"lig":"TD139","gal":"hGal1","T":298,"s":"bound","ppm":-113.18,"i":9},{"lig":"TD139","gal":"hGal1","T":298,"s":"bound","ppm":-113.28,"i":0},{"lig":"TD139","gal":"hGal1","T":298,"s":"bound","ppm":-113.58,"i":0},{"lig":"TD139","gal":"hGal1","T":298,"s":"bound","ppm":-113.7,"i":4},{"lig":"TD139","gal":"hGal1","T":298,"s":"bound","ppm":-113.82,"i":0},{"lig":"TD139","gal":"hGal1","T":298,"s":"bound","ppm":-115.9,"i":0},
{"lig":"TD139","gal":"hGal3","T":298,"s":"bound","ppm":-110.75,"i":0},{"lig":"TD139","gal":"hGal3","T":298,"s":"bound","ppm":-112.46,"i":0},{"lig":"TD139","gal":"hGal3","T":298,"s":"bound","ppm":-112.58,"i":10},{"lig":"TD139","gal":"hGal3","T":298,"s":"bound","ppm":-112.64,"i":39},{"lig":"TD139","gal":"hGal3","T":298,"s":"bound","ppm":-112.7,"i":10},{"lig":"TD139","gal":"hGal3","T":298,"s":"bound","ppm":-112.79,"i":5},{"lig":"TD139","gal":"hGal3","T":298,"s":"bound","ppm":-112.87,"i":7},{"lig":"TD139","gal":"hGal3","T":298,"s":"bound","ppm":-112.93,"i":28},{"lig":"TD139","gal":"hGal3","T":298,"s":"bound","ppm":-112.99,"i":7},{"lig":"TD139","gal":"hGal3","T":298,"s":"bound","ppm":-113.15,"i":2},{"lig":"TD139","gal":"hGal3","T":298,"s":"bound","ppm":-113.38,"i":5},{"lig":"TD139","gal":"hGal3","T":298,"s":"bound","ppm":-113.45,"i":22},{"lig":"TD139","gal":"hGal3","T":298,"s":"bound","ppm":-113.52,"i":5},{"lig":"TD139","gal":"hGal3","T":298,"s":"bound","ppm":-113.66,"i":0},{"lig":"TD139","gal":"hGal3","T":298,"s":"bound","ppm":-115.9,"i":0},
{"lig":"TD139","gal":"hGal7","T":298,"s":"bound","ppm":-110.75,"i":0},{"lig":"TD139","gal":"hGal7","T":298,"s":"bound","ppm":-112.69,"i":0},{"lig":"TD139","gal":"hGal7","T":298,"s":"bound","ppm":-112.81,"i":8},{"lig":"TD139","gal":"hGal7","T":298,"s":"bound","ppm":-112.87,"i":31},{"lig":"TD139","gal":"hGal7","T":298,"s":"bound","ppm":-112.93,"i":8},{"lig":"TD139","gal":"hGal7","T":298,"s":"bound","ppm":-113.05,"i":0},{"lig":"TD139","gal":"hGal7","T":298,"s":"bound","ppm":-115.9,"i":0},

{"lig":"TAZTDG","gal":"hGal1","T":288,"s":"bound","ppm":-110.75,"i":0},{"lig":"TAZTDG","gal":"hGal1","T":288,"s":"bound","ppm":-112.64,"i":0},{"lig":"TAZTDG","gal":"hGal1","T":288,"s":"bound","ppm":-112.76,"i":10},{"lig":"TAZTDG","gal":"hGal1","T":288,"s":"bound","ppm":-112.82,"i":41},{"lig":"TAZTDG","gal":"hGal1","T":288,"s":"bound","ppm":-112.88,"i":10},{"lig":"TAZTDG","gal":"hGal1","T":288,"s":"bound","ppm":-113.0,"i":1},{"lig":"TAZTDG","gal":"hGal1","T":288,"s":"bound","ppm":-113.1,"i":0},{"lig":"TAZTDG","gal":"hGal1","T":288,"s":"bound","ppm":-113.2,"i":8},{"lig":"TAZTDG","gal":"hGal1","T":288,"s":"bound","ppm":-113.3,"i":0},{"lig":"TAZTDG","gal":"hGal1","T":288,"s":"bound","ppm":-113.68,"i":0},{"lig":"TAZTDG","gal":"hGal1","T":288,"s":"bound","ppm":-113.8,"i":8},{"lig":"TAZTDG","gal":"hGal1","T":288,"s":"bound","ppm":-113.92,"i":0},{"lig":"TAZTDG","gal":"hGal1","T":288,"s":"bound","ppm":-115.9,"i":0},
{"lig":"TAZTDG","gal":"hGal3","T":288,"s":"bound","ppm":-110.75,"i":0},{"lig":"TAZTDG","gal":"hGal3","T":288,"s":"bound","ppm":-112.55,"i":0},{"lig":"TAZTDG","gal":"hGal3","T":288,"s":"bound","ppm":-112.7,"i":7},{"lig":"TAZTDG","gal":"hGal3","T":288,"s":"bound","ppm":-112.8,"i":24},{"lig":"TAZTDG","gal":"hGal3","T":288,"s":"bound","ppm":-112.88,"i":12},{"lig":"TAZTDG","gal":"hGal3","T":288,"s":"bound","ppm":-112.94,"i":11},{"lig":"TAZTDG","gal":"hGal3","T":288,"s":"bound","ppm":-113.0,"i":14},{"lig":"TAZTDG","gal":"hGal3","T":288,"s":"bound","ppm":-113.06,"i":24},{"lig":"TAZTDG","gal":"hGal3","T":288,"s":"bound","ppm":-113.14,"i":8},{"lig":"TAZTDG","gal":"hGal3","T":288,"s":"bound","ppm":-113.3,"i":3},{"lig":"TAZTDG","gal":"hGal3","T":288,"s":"bound","ppm":-113.6,"i":5},{"lig":"TAZTDG","gal":"hGal3","T":288,"s":"bound","ppm":-113.68,"i":11},{"lig":"TAZTDG","gal":"hGal3","T":288,"s":"bound","ppm":-113.75,"i":16},{"lig":"TAZTDG","gal":"hGal3","T":288,"s":"bound","ppm":-113.82,"i":11},{"lig":"TAZTDG","gal":"hGal3","T":288,"s":"bound","ppm":-113.92,"i":4},{"lig":"TAZTDG","gal":"hGal3","T":288,"s":"bound","ppm":-114.1,"i":0},{"lig":"TAZTDG","gal":"hGal3","T":288,"s":"bound","ppm":-115.9,"i":0},
{"lig":"TAZTDG","gal":"hGal7","T":288,"s":"bound","ppm":-110.75,"i":0},{"lig":"TAZTDG","gal":"hGal7","T":288,"s":"bound","ppm":-112.78,"i":0},{"lig":"TAZTDG","gal":"hGal7","T":288,"s":"bound","ppm":-112.9,"i":10},{"lig":"TAZTDG","gal":"hGal7","T":288,"s":"bound","ppm":-112.96,"i":40},{"lig":"TAZTDG","gal":"hGal7","T":288,"s":"bound","ppm":-113.02,"i":10},{"lig":"TAZTDG","gal":"hGal7","T":288,"s":"bound","ppm":-113.14,"i":0},{"lig":"TAZTDG","gal":"hGal7","T":288,"s":"bound","ppm":-115.9,"i":0},
{"lig":"TD139","gal":"hGal1","T":288,"s":"bound","ppm":-110.75,"i":0},{"lig":"TD139","gal":"hGal1","T":288,"s":"bound","ppm":-112.61,"i":0},{"lig":"TD139","gal":"hGal1","T":288,"s":"bound","ppm":-112.73,"i":11},{"lig":"TD139","gal":"hGal1","T":288,"s":"bound","ppm":-112.79,"i":46},{"lig":"TD139","gal":"hGal1","T":288,"s":"bound","ppm":-112.85,"i":11},{"lig":"TD139","gal":"hGal1","T":288,"s":"bound","ppm":-112.97,"i":1},{"lig":"TD139","gal":"hGal1","T":288,"s":"bound","ppm":-113.19,"i":0},{"lig":"TD139","gal":"hGal1","T":288,"s":"bound","ppm":-113.29,"i":11},{"lig":"TD139","gal":"hGal1","T":288,"s":"bound","ppm":-113.39,"i":1},{"lig":"TD139","gal":"hGal1","T":288,"s":"bound","ppm":-113.82,"i":0},{"lig":"TD139","gal":"hGal1","T":288,"s":"bound","ppm":-113.94,"i":6},{"lig":"TD139","gal":"hGal1","T":288,"s":"bound","ppm":-114.06,"i":0},{"lig":"TD139","gal":"hGal1","T":288,"s":"bound","ppm":-115.9,"i":0},
{"lig":"TD139","gal":"hGal3","T":288,"s":"bound","ppm":-110.75,"i":0},{"lig":"TD139","gal":"hGal3","T":288,"s":"bound","ppm":-112.53,"i":0},{"lig":"TD139","gal":"hGal3","T":288,"s":"bound","ppm":-112.65,"i":12},{"lig":"TD139","gal":"hGal3","T":288,"s":"bound","ppm":-112.71,"i":48},{"lig":"TD139","gal":"hGal3","T":288,"s":"bound","ppm":-112.77,"i":12},{"lig":"TD139","gal":"hGal3","T":288,"s":"bound","ppm":-112.86,"i":8},{"lig":"TD139","gal":"hGal3","T":288,"s":"bound","ppm":-112.94,"i":10},{"lig":"TD139","gal":"hGal3","T":288,"s":"bound","ppm":-113.0,"i":30},{"lig":"TD139","gal":"hGal3","T":288,"s":"bound","ppm":-113.06,"i":9},{"lig":"TD139","gal":"hGal3","T":288,"s":"bound","ppm":-113.25,"i":3},{"lig":"TD139","gal":"hGal3","T":288,"s":"bound","ppm":-113.6,"i":6},{"lig":"TD139","gal":"hGal3","T":288,"s":"bound","ppm":-113.69,"i":24},{"lig":"TD139","gal":"hGal3","T":288,"s":"bound","ppm":-113.78,"i":7},{"lig":"TD139","gal":"hGal3","T":288,"s":"bound","ppm":-113.95,"i":1},{"lig":"TD139","gal":"hGal3","T":288,"s":"bound","ppm":-114.1,"i":0},{"lig":"TD139","gal":"hGal3","T":288,"s":"bound","ppm":-115.9,"i":0},
{"lig":"TD139","gal":"hGal7","T":288,"s":"bound","ppm":-110.75,"i":0},{"lig":"TD139","gal":"hGal7","T":288,"s":"bound","ppm":-112.76,"i":0},{"lig":"TD139","gal":"hGal7","T":288,"s":"bound","ppm":-112.88,"i":11},{"lig":"TD139","gal":"hGal7","T":288,"s":"bound","ppm":-112.94,"i":46},{"lig":"TD139","gal":"hGal7","T":288,"s":"bound","ppm":-113.0,"i":11},{"lig":"TD139","gal":"hGal7","T":288,"s":"bound","ppm":-113.12,"i":0},{"lig":"TD139","gal":"hGal7","T":288,"s":"bound","ppm":-115.9,"i":0},

{"lig":"TAZTDG","gal":"hGal1","T":278,"s":"bound","ppm":-110.75,"i":0},{"lig":"TAZTDG","gal":"hGal1","T":278,"s":"bound","ppm":-112.76,"i":0},{"lig":"TAZTDG","gal":"hGal1","T":278,"s":"bound","ppm":-112.88,"i":12},{"lig":"TAZTDG","gal":"hGal1","T":278,"s":"bound","ppm":-112.94,"i":48},{"lig":"TAZTDG","gal":"hGal1","T":278,"s":"bound","ppm":-113.0,"i":12},{"lig":"TAZTDG","gal":"hGal1","T":278,"s":"bound","ppm":-113.12,"i":1},{"lig":"TAZTDG","gal":"hGal1","T":278,"s":"bound","ppm":-113.22,"i":1},{"lig":"TAZTDG","gal":"hGal1","T":278,"s":"bound","ppm":-113.32,"i":9},{"lig":"TAZTDG","gal":"hGal1","T":278,"s":"bound","ppm":-113.42,"i":1},{"lig":"TAZTDG","gal":"hGal1","T":278,"s":"bound","ppm":-113.9,"i":0},{"lig":"TAZTDG","gal":"hGal1","T":278,"s":"bound","ppm":-114.0,"i":6},{"lig":"TAZTDG","gal":"hGal1","T":278,"s":"bound","ppm":-114.1,"i":0},{"lig":"TAZTDG","gal":"hGal1","T":278,"s":"bound","ppm":-115.9,"i":0},
{"lig":"TAZTDG","gal":"hGal3","T":278,"s":"bound","ppm":-110.75,"i":0},{"lig":"TAZTDG","gal":"hGal3","T":278,"s":"bound","ppm":-112.62,"i":0},{"lig":"TAZTDG","gal":"hGal3","T":278,"s":"bound","ppm":-112.76,"i":6},{"lig":"TAZTDG","gal":"hGal3","T":278,"s":"bound","ppm":-112.84,"i":22},{"lig":"TAZTDG","gal":"hGal3","T":278,"s":"bound","ppm":-112.91,"i":9},{"lig":"TAZTDG","gal":"hGal3","T":278,"s":"bound","ppm":-113.0,"i":8},{"lig":"TAZTDG","gal":"hGal3","T":278,"s":"bound","ppm":-113.08,"i":9},{"lig":"TAZTDG","gal":"hGal3","T":278,"s":"bound","ppm":-113.15,"i":21},{"lig":"TAZTDG","gal":"hGal3","T":278,"s":"bound","ppm":-113.23,"i":6},{"lig":"TAZTDG","gal":"hGal3","T":278,"s":"bound","ppm":-113.4,"i":2},{"lig":"TAZTDG","gal":"hGal3","T":278,"s":"bound","ppm":-113.88,"i":1},{"lig":"TAZTDG","gal":"hGal3","T":278,"s":"bound","ppm":-113.98,"i":8},{"lig":"TAZTDG","gal":"hGal3","T":278,"s":"bound","ppm":-114.08,"i":1},{"lig":"TAZTDG","gal":"hGal3","T":278,"s":"bound","ppm":-114.25,"i":0},{"lig":"TAZTDG","gal":"hGal3","T":278,"s":"bound","ppm":-115.9,"i":0},
{"lig":"TAZTDG","gal":"hGal7","T":278,"s":"bound","ppm":-110.75,"i":0},{"lig":"TAZTDG","gal":"hGal7","T":278,"s":"bound","ppm":-112.85,"i":0},{"lig":"TAZTDG","gal":"hGal7","T":278,"s":"bound","ppm":-112.97,"i":11},{"lig":"TAZTDG","gal":"hGal7","T":278,"s":"bound","ppm":-113.03,"i":44},{"lig":"TAZTDG","gal":"hGal7","T":278,"s":"bound","ppm":-113.09,"i":11},{"lig":"TAZTDG","gal":"hGal7","T":278,"s":"bound","ppm":-113.21,"i":0},{"lig":"TAZTDG","gal":"hGal7","T":278,"s":"bound","ppm":-115.9,"i":0},
{"lig":"TD139","gal":"hGal1","T":278,"s":"bound","ppm":-110.75,"i":0},{"lig":"TD139","gal":"hGal1","T":278,"s":"bound","ppm":-112.7,"i":0},{"lig":"TD139","gal":"hGal1","T":278,"s":"bound","ppm":-112.82,"i":11},{"lig":"TD139","gal":"hGal1","T":278,"s":"bound","ppm":-112.88,"i":45},{"lig":"TD139","gal":"hGal1","T":278,"s":"bound","ppm":-112.94,"i":11},{"lig":"TD139","gal":"hGal1","T":278,"s":"bound","ppm":-113.06,"i":2},{"lig":"TD139","gal":"hGal1","T":278,"s":"bound","ppm":-113.3,"i":1},{"lig":"TD139","gal":"hGal1","T":278,"s":"bound","ppm":-113.4,"i":9},{"lig":"TD139","gal":"hGal1","T":278,"s":"bound","ppm":-113.5,"i":1},{"lig":"TD139","gal":"hGal1","T":278,"s":"bound","ppm":-113.9,"i":1},{"lig":"TD139","gal":"hGal1","T":278,"s":"bound","ppm":-114.05,"i":3.5},{"lig":"TD139","gal":"hGal1","T":278,"s":"bound","ppm":-114.12,"i":4},{"lig":"TD139","gal":"hGal1","T":278,"s":"bound","ppm":-114.25,"i":2},{"lig":"TD139","gal":"hGal1","T":278,"s":"bound","ppm":-114.45,"i":0},{"lig":"TD139","gal":"hGal1","T":278,"s":"bound","ppm":-115.9,"i":0},
{"lig":"TD139","gal":"hGal3","T":278,"s":"bound","ppm":-110.75,"i":0},{"lig":"TD139","gal":"hGal3","T":278,"s":"bound","ppm":-112.64,"i":0},{"lig":"TD139","gal":"hGal3","T":278,"s":"bound","ppm":-112.76,"i":10},{"lig":"TD139","gal":"hGal3","T":278,"s":"bound","ppm":-112.82,"i":42},{"lig":"TD139","gal":"hGal3","T":278,"s":"bound","ppm":-112.88,"i":11},{"lig":"TD139","gal":"hGal3","T":278,"s":"bound","ppm":-112.97,"i":9},{"lig":"TD139","gal":"hGal3","T":278,"s":"bound","ppm":-113.05,"i":11},{"lig":"TD139","gal":"hGal3","T":278,"s":"bound","ppm":-113.12,"i":22},{"lig":"TD139","gal":"hGal3","T":278,"s":"bound","ppm":-113.2,"i":8},{"lig":"TD139","gal":"hGal3","T":278,"s":"bound","ppm":-113.4,"i":3},{"lig":"TD139","gal":"hGal3","T":278,"s":"bound","ppm":-113.88,"i":6},{"lig":"TD139","gal":"hGal3","T":278,"s":"bound","ppm":-113.98,"i":16},{"lig":"TD139","gal":"hGal3","T":278,"s":"bound","ppm":-114.08,"i":7},{"lig":"TD139","gal":"hGal3","T":278,"s":"bound","ppm":-114.3,"i":2},{"lig":"TD139","gal":"hGal3","T":278,"s":"bound","ppm":-114.6,"i":0},{"lig":"TD139","gal":"hGal3","T":278,"s":"bound","ppm":-115.9,"i":0},
{"lig":"TD139","gal":"hGal7","T":278,"s":"bound","ppm":-110.75,"i":0},{"lig":"TD139","gal":"hGal7","T":278,"s":"bound","ppm":-112.88,"i":0},{"lig":"TD139","gal":"hGal7","T":278,"s":"bound","ppm":-113.0,"i":14},{"lig":"TD139","gal":"hGal7","T":278,"s":"bound","ppm":-113.06,"i":58},{"lig":"TD139","gal":"hGal7","T":278,"s":"bound","ppm":-113.12,"i":14},{"lig":"TD139","gal":"hGal7","T":278,"s":"bound","ppm":-113.24,"i":0},{"lig":"TD139","gal":"hGal7","T":278,"s":"bound","ppm":-115.9,"i":0}
]
},
"encoding":{
"x":{"field":"X","type":"quantitative","scale":{"domain":[-0.4545,35.318],"nice":false,"zero":false},
 "axis":{"title":"ppm","values":[0.26,1.26,2.26,3.26,4.26,6.126,7.126,8.126,9.126,10.126,11.992,12.992,13.992,14.992,15.992,17.858,18.858,19.858,20.858,21.858,23.724,24.724,25.724,26.724,27.724,29.59,30.59,31.59,32.59,33.59],
 "labelExpr":"round(datum.value-floor(datum.value/5.866)*5.866-0.26)==1?'-112':round(datum.value-floor(datum.value/5.866)*5.866-0.26)==3?'-114':''",
 "domain":false,"grid":false,"ticks":true,"tickSize":4,"tickColor":"#000000","tickWidth":1,
 "labelFont":"Liberation Serif","labelFontSize":14,"labelFontWeight":"bold","labelColor":"#000000","labelPadding":2,"labelOverlap":false,"labelFlush":false,
 "titleFont":"Liberation Serif","titleFontSize":15,"titleFontWeight":"bold","titleColor":"#000000","titleX":777,"titleY":15,"titleAlign":"right","titleBaseline":"middle","titleAngle":0,"zindex":1}},
"y":{"field":"Y","type":"quantitative","scale":{"domain":[0,532],"nice":false,"zero":false},"axis":null}
},
"layer":[
{"data":{"values":[{"lig":"TD139"}]},
 "transform":[{"calculate":"17.14","as":"X"},{"calculate":"35.4","as":"X2"},{"calculate":"496.5","as":"Y"},{"calculate":"-31","as":"Y2"}],
 "mark":{"type":"rect","color":"#fcfbf1"},
 "encoding":{"x2":{"field":"X2"},"y2":{"field":"Y2"}}},
{"data":{"name":"spec"},
 "transform":[{"aggregate":[{"op":"count","as":"n"}],"groupby":["T"]},
  {"calculate":"datum.T==313?390.3:datum.T==308?303:datum.T==298?217.7:datum.T==288?116.3:16.3","as":"B"},
  {"calculate":"16.05","as":"X"},{"calculate":"18.25","as":"X2"},{"calculate":"datum.B+6","as":"Y"},{"calculate":"datum.B+21","as":"Y2"}],
 "mark":{"type":"rect","color":"#ffffff"},
 "encoding":{"x2":{"field":"X2"},"y2":{"field":"Y2"}}},
{"data":{"name":"panels"},
 "transform":[{"filter":"datum.gal=='hGal3'"},
  {"calculate":"(datum.lig=='TD139'?3:0)+indexof(['hGal1','hGal3','hGal7'],datum.gal)","as":"col"},
  {"calculate":"datum.col*5.866-6.166","as":"X"},{"calculate":"datum.col*5.866+11.026+(datum.col>2?0.9:0)","as":"X2"},
  {"calculate":"datum.col>2?498.5:500.3","as":"Y"}],
 "mark":{"type":"rule","color":"#000000","strokeWidth":3},
 "encoding":{"x2":{"field":"X2"}}},
{"data":{"name":"panels"},
 "transform":[{"filter":"datum.gal=='hGal3'"},
  {"calculate":"(datum.lig=='TD139'?3:0)+indexof(['hGal1','hGal3','hGal7'],datum.gal)","as":"col"},
  {"calculate":"datum.col*5.866+2.2","as":"X"},{"calculate":"512.3","as":"Y"}],
 "mark":{"type":"text","font":"Liberation Serif","fontSize":22,"fontWeight":"bold","color":"#000000","align":"center","baseline":"alphabetic"},
 "encoding":{"text":{"field":"lig"}}},
{"data":{"name":"panels"},
 "transform":[{"calculate":"(datum.lig=='TD139'?3:0)+indexof(['hGal1','hGal3','hGal7'],datum.gal)","as":"col"},
  {"calculate":"datum.col*5.866+1.87","as":"X"},{"calculate":"datum.col>2?455:452.7","as":"Y"}],
 "mark":{"type":"text","font":"Liberation Serif","fontSize":22,"fontWeight":"bold","color":"#000000","align":"center","baseline":"alphabetic"},
 "encoding":{"text":{"field":"gal"}}},
{"data":{"name":"spec"},
 "transform":[{"aggregate":[{"op":"count","as":"n"}],"groupby":["T"]},
  {"calculate":"datum.T==313?390.3:datum.T==308?303:datum.T==298?217.7:datum.T==288?116.3:16.3","as":"B"},
  {"calculate":"17.15","as":"X"},{"calculate":"datum.B+13.5","as":"Y"},{"calculate":"datum.T+'K'","as":"label"}],
 "mark":{"type":"text","font":"Liberation Serif","fontSize":15,"fontWeight":"bold","color":"#1a1aff","align":"center","baseline":"middle"},
 "encoding":{"text":{"field":"label"}}},
{"data":{"name":"panels"},
 "transform":[{"calculate":"(datum.lig=='TD139'?3:0)+indexof(['hGal1','hGal3','hGal7'],datum.gal)","as":"col"},
  {"calculate":"datum.col*5.866","as":"X"},{"calculate":"datum.col*5.866+5.2","as":"X2"},{"calculate":"0","as":"Y"}],
 "mark":{"type":"rule","color":"#000000","strokeWidth":1},
 "encoding":{"x2":{"field":"X2"}}},
{"data":{"name":"spec"},
 "transform":[{"filter":"datum.s=='free'"},
  {"calculate":"(datum.lig=='TD139'?3:0)+indexof(['hGal1','hGal3','hGal7'],datum.gal)","as":"col"},
  {"calculate":"datum.col*5.866-110.74-datum.ppm","as":"X"},
  {"calculate":"(datum.T==313?390.3:datum.T==308?303:datum.T==298?217.7:datum.T==288?116.3:16.3)+datum.i","as":"Y"}],
 "mark":{"type":"line","strokeWidth":1.2,"interpolate":"linear"},
 "encoding":{"color":{"field":"s","type":"nominal","scale":{"domain":["free","bound"],"range":["#ff0000","#000000"]},"legend":null},
  "detail":[{"field":"lig"},{"field":"gal"},{"field":"T"}]}},
{"data":{"name":"spec"},
 "transform":[{"filter":"datum.s=='bound'"},
  {"calculate":"(datum.lig=='TD139'?3:0)+indexof(['hGal1','hGal3','hGal7'],datum.gal)","as":"col"},
  {"calculate":"datum.col*5.866-110.74-datum.ppm","as":"X"},
  {"calculate":"(datum.T==313?390.3:datum.T==308?303:datum.T==298?217.7:datum.T==288?116.3:16.3)+datum.i","as":"Y"}],
 "mark":{"type":"line","strokeWidth":1.2,"interpolate":"linear"},
 "encoding":{"color":{"field":"s","type":"nominal","scale":{"domain":["free","bound"],"range":["#ff0000","#000000"]},"legend":null},
  "detail":[{"field":"lig"},{"field":"gal"},{"field":"T"}]}},
{"data":{"name":"brackets"},
 "transform":[{"calculate":"(datum.lig=='TD139'?3:0)+indexof(['hGal1','hGal3','hGal7'],datum.gal)","as":"col"},
  {"calculate":"datum.col*5.866-110.74-datum.from","as":"X"},{"calculate":"datum.col*5.866-110.74-datum.to","as":"X2"},
  {"calculate":"(datum.T==313?390.3:datum.T==308?303:datum.T==298?217.7:datum.T==288?116.3:16.3)+datum.lvl","as":"Y"}],
 "mark":{"type":"rule","color":"#ff40a8","strokeWidth":1.8},
 "encoding":{"x2":{"field":"X2"}}},
{"data":{"name":"brackets"},
 "transform":[{"calculate":"(datum.lig=='TD139'?3:0)+indexof(['hGal1','hGal3','hGal7'],datum.gal)","as":"col"},
  {"calculate":"datum.col*5.866-110.74-datum.from","as":"Xa"},{"calculate":"datum.col*5.866-110.74-datum.to","as":"Xb"},
  {"fold":["Xa","Xb"],"as":["end","X"]},
  {"calculate":"(datum.T==313?390.3:datum.T==308?303:datum.T==298?217.7:datum.T==288?116.3:16.3)+datum.lvl","as":"Y"},
  {"calculate":"datum.Y+(datum.lvl<0?3.5:-3.5)","as":"Y2"}],
 "mark":{"type":"rule","color":"#ff40a8","strokeWidth":1.8},
 "encoding":{"y2":{"field":"Y2"}}},
{"data":{"name":"brackets"},
 "transform":[{"calculate":"(datum.lig=='TD139'?3:0)+indexof(['hGal1','hGal3','hGal7'],datum.gal)","as":"col"},
  {"calculate":"datum.col*5.866-110.74-(datum.from+datum.to)/2","as":"X"},
  {"calculate":"(datum.T==313?390.3:datum.T==308?303:datum.T==298?217.7:datum.T==288?116.3:16.3)+datum.lvl","as":"Y"},
  {"calculate":"datum.Y+(datum.lvl<0?-4:4)","as":"Y2"}],
 "mark":{"type":"rule","color":"#ff40a8","strokeWidth":1.8},
 "encoding":{"y2":{"field":"Y2"}}},
{"data":{"name":"arrows"},
 "transform":[{"calculate":"(datum.lig=='TD139'?3:0)+indexof(['hGal1','hGal3','hGal7'],datum.gal)","as":"col"},
  {"calculate":"datum.col*5.866-110.74-datum.ppm","as":"Xt"},
  {"calculate":"(datum.T==313?390.3:datum.T==308?303:datum.T==298?217.7:datum.T==288?116.3:16.3)+datum.i","as":"Yt"},
  {"calculate":"datum.Xt-0.78","as":"X"},{"calculate":"datum.Yt+11.2","as":"Y"},
  {"calculate":"datum.Xt-0.19","as":"X2"},{"calculate":"datum.Yt+2.7","as":"Y2"}],
 "mark":{"type":"rule","color":"#a64cf5","strokeWidth":4.5},
 "encoding":{"x2":{"field":"X2"},"y2":{"field":"Y2"}}},
{"data":{"name":"arrows"},
 "transform":[{"calculate":"(datum.lig=='TD139'?3:0)+indexof(['hGal1','hGal3','hGal7'],datum.gal)","as":"col"},
  {"calculate":"datum.col*5.866-110.74-datum.ppm-0.19","as":"X"},
  {"calculate":"(datum.T==313?390.3:datum.T==308?303:datum.T==298?217.7:datum.T==288?116.3:16.3)+datum.i+2.7","as":"Y"}],
 "mark":{"type":"point","shape":"triangle-right","angle":33,"size":120,"filled":true,"opacity":1,"color":"#a64cf5"}},
{"data":{"name":"notes"},
 "transform":[{"calculate":"(datum.lig=='TD139'?3:0)+indexof(['hGal1','hGal3','hGal7'],datum.gal)","as":"col"},
  {"calculate":"datum.col*5.866-110.74-datum.ppm","as":"X"},
  {"calculate":"(datum.T==313?390.3:datum.T==308?303:datum.T==298?217.7:datum.T==288?116.3:16.3)+datum.i","as":"Y"}],
 "mark":{"type":"text","font":"Open Sans","fontSize":13.5,"fontWeight":"bold","align":"center","baseline":"middle","lineBreak":"\n","lineHeight":14},
 "encoding":{"text":{"field":"note"},"color":{"field":"site","type":"nominal","scale":{"domain":["E","B"],"range":["#a64cf5","#ff3fa4"]},"legend":null}}}
]
}
